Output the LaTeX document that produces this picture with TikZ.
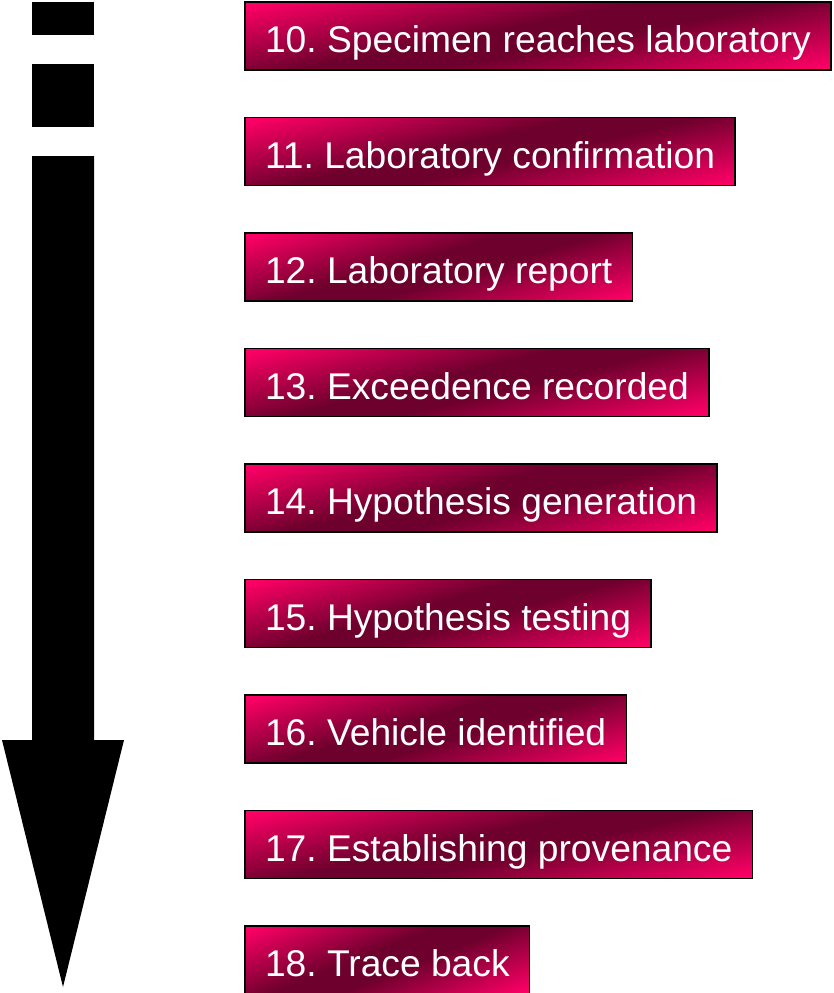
\documentclass[tikz,border=0pt]{standalone}
\usepackage{fontspec}
\setmainfont{Liberation Sans}
\usepackage{tikz}
% pink corners (top left, bottom right), dark band through the middle
\pgfdeclarefunctionalshading{pinkband}{\pgfpointorigin}{\pgfpoint{100bp}{100bp}}{}{
  0.6 mul sub 20 sub 25 div abs 0.25 sub 1.3 div
  dup 0 lt {pop 0} if dup 1 gt {pop 1} if
  dup 145 mul 110 add 255 div exch 0 exch 57 mul 45 add 255 div
}
\newcommand{\boxleft}{245}
\newcommand{\boxgap}{115.5}
\frenchspacing

\begin{document}
\begin{tikzpicture}[x=1pt, y=-1pt]
  \tikzset{stage/.style={draw=black, line width=1.5pt, shading=pinkband,
      text=white, font=\fontsize{37.2}{44}\selectfont, anchor=west,
      minimum height=68pt, text height=36pt, text depth=3pt,
      inner xsep=20pt, inner ysep=0pt, outer sep=0pt}}
  \useasboundingbox (0,0) rectangle (833,993);
  % timeline arrow, broken at the top
  \fill[black] (32,2) rectangle (94,35);
  \fill[black] (32,64) rectangle (94,127);
  \fill[black] (32,156) -- (94,156) -- (94,740) -- (124,740) -- (63,987) -- (2,740) -- (32,740) -- cycle;
  % stages
  \node[stage] (specimen) at (\boxleft, 36) {10. Specimen reaches laboratory};
  \node[stage] (confirm) at (\boxleft, 36+\boxgap) {11. Laboratory confirmation};
  \node[stage] (report) at (\boxleft, 36+2*\boxgap) {12. Laboratory report};
  \node[stage] (exceed) at (\boxleft, 36+3*\boxgap) {13. Exceedence recorded};
  \node[stage] (hypogen) at (\boxleft, 36+4*\boxgap) {14. Hypothesis generation};
  \node[stage] (hypotest) at (\boxleft, 36+5*\boxgap) {15. Hypothesis testing};
  \node[stage] (vehicle) at (\boxleft, 36+6*\boxgap) {16. Vehicle identified};
  \node[stage] (provenance) at (\boxleft, 36+7*\boxgap) {17. Establishing provenance};
  \node[stage] (traceback) at (\boxleft, 36+8*\boxgap) {18. Trace back};
\end{tikzpicture}
\end{document}
